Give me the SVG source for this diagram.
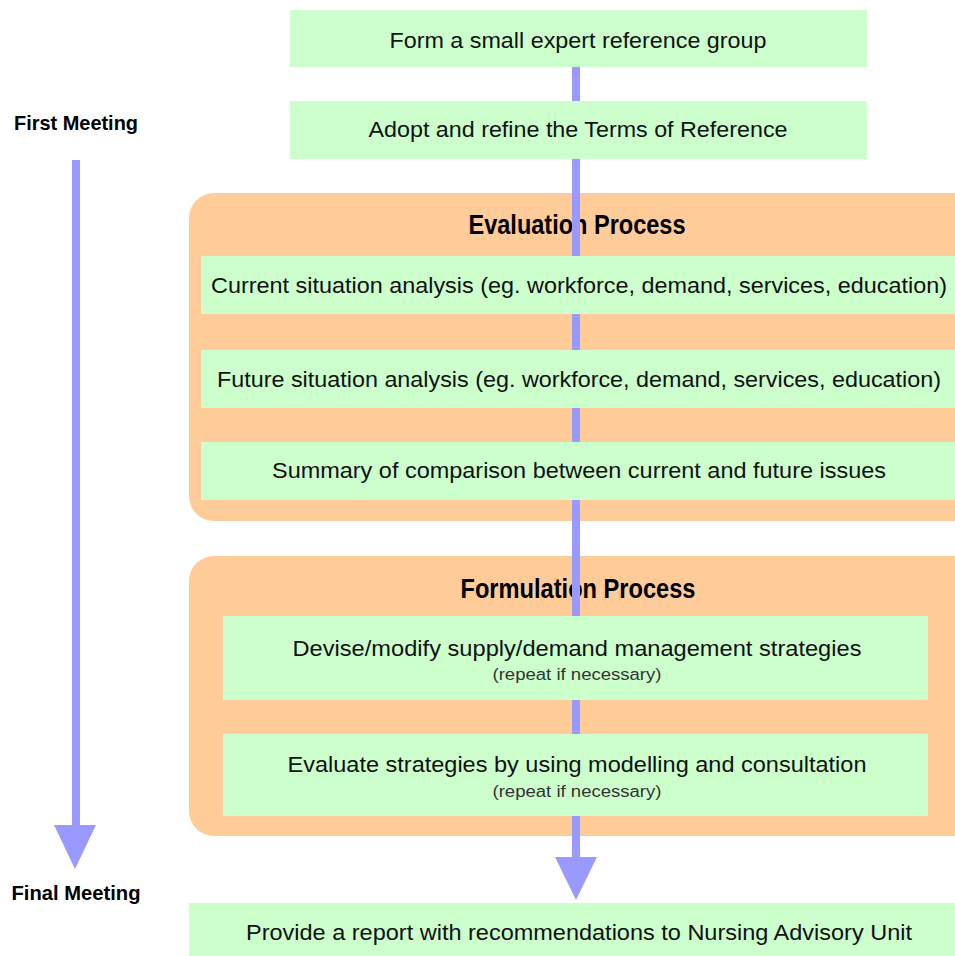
<svg xmlns="http://www.w3.org/2000/svg" width="955" height="956" viewBox="0 0 955 956">
<style>
.box{fill:#ccffcc}
.grp{fill:#ffcc99}
.t{font-family:"Liberation Sans",Arial,sans-serif;font-size:22px;fill:#111;text-anchor:middle}
.s{font-family:"Liberation Sans",Arial,sans-serif;font-size:16px;fill:#333;text-anchor:middle}
.h{font-family:"Liberation Sans",Arial,sans-serif;font-weight:bold;fill:#000;text-anchor:middle}
.ln{stroke:#9999ff;stroke-width:8;fill:none}
.ah{fill:#9999ff}
</style>
<rect width="955" height="956" fill="#fff"/>
<g id="evaluation-group"><rect class="grp" x="189" y="193" width="790" height="328" rx="25"/>
<text class="h" x="577" y="234" font-size="28" textLength="217" lengthAdjust="spacingAndGlyphs">Evaluation Process</text></g>
<g id="formulation-group"><rect class="grp" x="189" y="556" width="790" height="280" rx="25"/>
<text class="h" x="578" y="598" font-size="28" textLength="235" lengthAdjust="spacingAndGlyphs">Formulation Process</text></g>
<g id="connectors">
<line class="ln" x1="576" y1="67" x2="576" y2="860"/>
<polygon class="ah" points="555,857 597,857 576,900"/>
<line class="ln" x1="76" y1="160" x2="76" y2="828"/>
<polygon class="ah" points="54,825 96,825 75,869"/>
</g>
<g id="n1"><rect class="box" x="290" y="10" width="577" height="57"/><text class="t" x="578" y="48" textLength="377" lengthAdjust="spacingAndGlyphs">Form a small expert reference group</text></g>
<g id="n2"><rect class="box" x="290" y="101" width="577" height="58"/><text class="t" x="578" y="137" textLength="419" lengthAdjust="spacingAndGlyphs">Adopt and refine the Terms of Reference</text></g>
<g id="n3"><rect class="box" x="201" y="256" width="760" height="58"/><text class="t" x="579" y="293" textLength="736" lengthAdjust="spacingAndGlyphs">Current situation analysis (eg. workforce, demand, services, education)</text></g>
<g id="n4"><rect class="box" x="201" y="350" width="760" height="58"/><text class="t" x="579" y="387" textLength="724" lengthAdjust="spacingAndGlyphs">Future situation analysis (eg. workforce, demand, services, education)</text></g>
<g id="n5"><rect class="box" x="201" y="442" width="760" height="58"/><text class="t" x="579" y="478" textLength="614" lengthAdjust="spacingAndGlyphs">Summary of comparison between current and future issues</text></g>
<g id="n6"><rect class="box" x="223" y="616" width="705" height="84"/><text class="t" x="577" y="656" textLength="569" lengthAdjust="spacingAndGlyphs">Devise/modify supply/demand management strategies</text><text class="s" x="577" y="680" textLength="169" lengthAdjust="spacingAndGlyphs">(repeat if necessary)</text></g>
<g id="n7"><rect class="box" x="223" y="734" width="705" height="82"/><text class="t" x="577" y="772" textLength="579" lengthAdjust="spacingAndGlyphs">Evaluate strategies by using modelling and consultation</text><text class="s" x="577" y="797" textLength="169" lengthAdjust="spacingAndGlyphs">(repeat if necessary)</text></g>
<g id="n8"><rect class="box" x="189" y="903" width="790" height="53"/><text class="t" x="579" y="940" textLength="666" lengthAdjust="spacingAndGlyphs">Provide a report with recommendations to Nursing Advisory Unit</text></g>
<g id="first-meeting"><text class="h" x="76" y="130" font-size="21" textLength="124" lengthAdjust="spacingAndGlyphs">First Meeting</text></g>
<g id="final-meeting"><text class="h" x="76" y="900" font-size="21" textLength="129" lengthAdjust="spacingAndGlyphs">Final Meeting</text></g>
</svg>
